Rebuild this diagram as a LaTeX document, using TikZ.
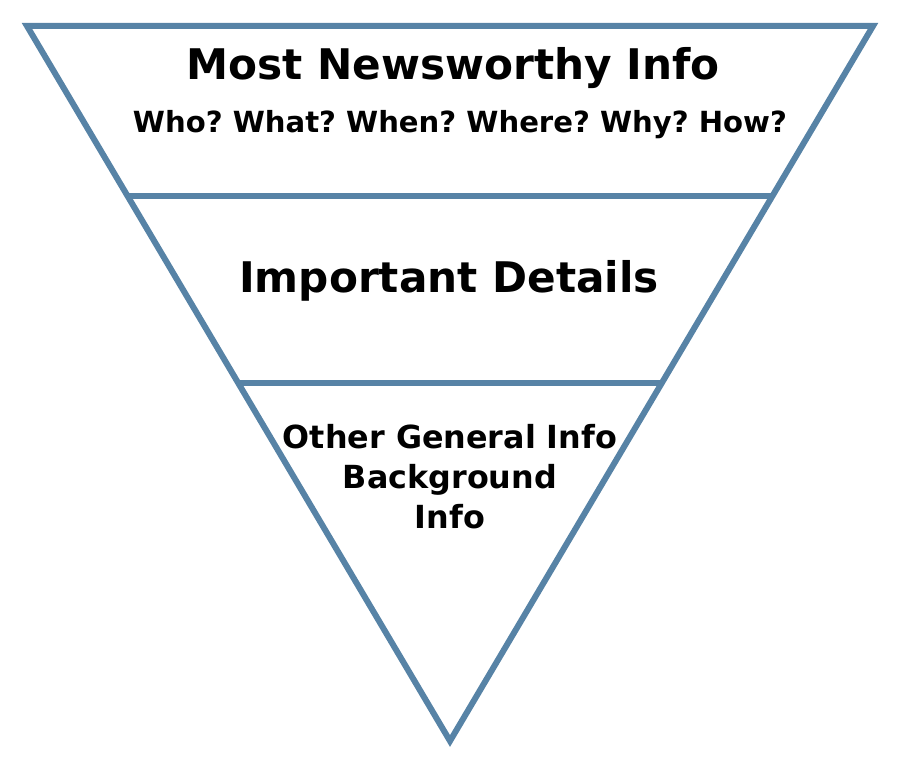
\documentclass[tikz,border=0pt]{standalone}
\usepackage{fontspec}
\setmainfont{DejaVu Sans}
\usetikzlibrary{calc}
\definecolor{pyrblue}{RGB}{87,131,166}
\frenchspacing

\begin{document}
\begin{tikzpicture}[x=1pt, y=-1pt]
\tikzset{layer/.style={draw=pyrblue, line width=6pt, line join=miter},
         head/.style={anchor=base, inner sep=0pt, font=\bfseries\fontsize{42.2}{48}\selectfont},
         sub/.style={anchor=base, inner sep=0pt, font=\bfseries\fontsize{29.1}{34}\selectfont},
         rest/.style={anchor=base, inner sep=0pt, align=center, font=\bfseries\fontsize{31.8}{40}\selectfont}}
\useasboundingbox (0,0) rectangle (900,768);

\coordinate (tl) at (27,26);
\coordinate (tr) at (873,26);
\coordinate (apex) at (450,741);
\coordinate (l1) at ($(tl)!0.2378!(apex)$);
\coordinate (r1) at ($(tr)!0.2378!(apex)$);
\coordinate (l2) at ($(tl)!0.4993!(apex)$);
\coordinate (r2) at ($(tr)!0.4993!(apex)$);

\draw [layer] (tl) -- (tr) -- (apex) -- cycle;
\path [layer] (l1) edge (r1) (l2) edge (r2);

\node [head] (most) at (453,80) {Most Newsworthy Info};
\node [sub] (who) at (460,132) {Who? What? When? Where? Why? How?};
\node [head] (imp) at (449,292) {Important Details};
\node [rest] (other) at (450,528) {Other General Info\\Background\\Info};

\end{tikzpicture}
\end{document}
